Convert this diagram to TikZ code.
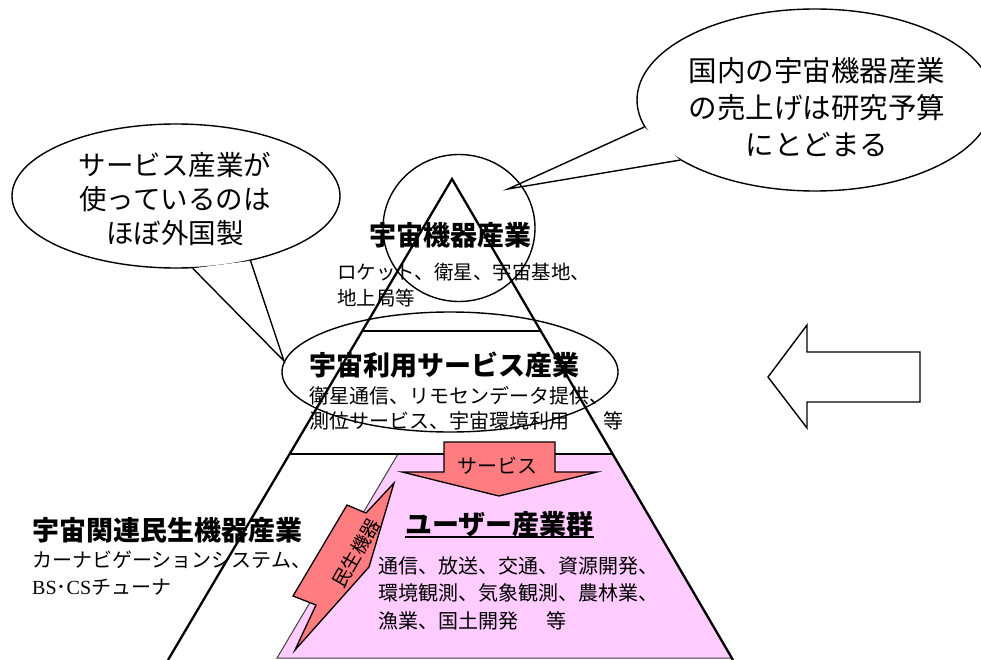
\documentclass[tikz,border=0pt]{standalone}
\usepackage{fontspec}
\setmainfont{Noto Sans CJK JP}
\newfontfamily\tms{Liberation Serif}
\usetikzlibrary{shapes.geometric}
\definecolor{pinkfill}{RGB}{255,204,255}
\definecolor{redarrow}{RGB}{255,124,128}
\tikzset{
  outl/.style={draw=black, line width=1.4pt, line join=miter},
  bubble/.style={ellipse, outl, fill=white, inner sep=0pt},
  ring/.style={ellipse, outl, inner sep=0pt},
  bubtext/.style={align=center, inner sep=0pt},
  heading/.style={font=\fontsize{27}{30}\selectfont\bfseries, inner sep=0pt, anchor=base west},
  body/.style={inner sep=0pt, align=left, anchor=north west},
  redshape/.style={draw=black, line width=1.3pt, fill=redarrow, line join=miter},
}
\begin{document}
\begin{tikzpicture}[x=1pt,y=-1pt]
\useasboundingbox (0,0) rectangle (981,660);

% callout bubbles
\node[bubble, minimum width=328pt, minimum height=144pt] (bubL) at (176,196) {};
\coordinate (tipL) at (284,361);
\fill[white] (bubL.-77.5) -- (tipL) -- (bubL.-41) -- cycle;
\draw[outl] (bubL.-77.5) -- (tipL) -- (bubL.-41);

\node[bubble, minimum width=356pt, minimum height=182pt] (bubR) at (815,100) {};
\coordinate (tipR) at (508,189);
\fill[white] (bubR.189.4) -- (tipR) -- (bubR.204) -- cycle;
\draw[outl] (bubR.189.4) -- (tipR) -- (bubR.204);

% user industries area
\draw[draw=black!75, line width=1pt, fill=pinkfill] (398,454) -- (612.7,454) -- (731.8,658) -- (277,658) -- cycle;

% pyramid
\draw[line width=2.3pt, line join=miter] (168,660) -- (452,179) -- (733,660);
\draw[line width=1.4pt] (362.3,331) -- (540.8,331);
\draw[line width=1.4pt] (289.6,454) -- (612.7,454);

% circle and ellipse
\node[ring, minimum width=152pt, minimum height=147pt] (circ) at (459,228) {};
\node[ring, minimum width=336pt, minimum height=120pt] (midE) at (450,372) {};

% red arrows
\draw[redshape] (444,442) -- (555,442) -- (555,472) -- (597,472) -- (499,496) -- (402,472) -- (444,472) -- cycle;
\draw[redshape] (295,650) -- (316,605) -- (293,596) -- (347,505) -- (366,513) -- (394,483) -- (369,567) -- cycle;

% right outline arrow
\draw[outl] (768,377) -- (807,325) -- (807,352) -- (920,352) -- (920,402) -- (807,402) -- (807,428) -- cycle;

% texts
\node[bubtext, font=\fontsize{27.5}{34}\selectfont] (tL) at (175,199) {サービス産業が\\使っているのは\\ほぼ外国製};
\node[bubtext, font=\fontsize{28.5}{37}\selectfont] (tR) at (817,107) {国内の宇宙機器産業\\の売上げは研究予算\\にとどまる};

\node[heading] (h1) at (369,245) {宇宙機器産業};
\node[body, font=\fontsize{19.5}{26}\selectfont] (b1) at (337,263) {ロケット、衛星、宇宙基地、\\地上局等};

\node[heading] (h2) at (309,375) {宇宙利用サービス産業};
\node[body, font=\fontsize{20}{25}\selectfont] (b2) at (309,386) {衛星通信、リモセンデータ提供、\\測位サービス、宇宙環境利用\hspace{1.7em}等};

\node[inner sep=0pt, font=\fontsize{20}{24}\selectfont] (svc) at (497,466) {サービス};

\node[heading] (h3) at (405,534) {ユーザー産業群};
\draw[line width=1.8pt] ([yshift=-3pt]h3.base west) -- ([yshift=-3pt]h3.base east);
\node[body, font=\fontsize{20}{27.5}\selectfont] (b3) at (378,556) {通信、放送、交通、資源開発、\\環境観測、気象観測、農林業、\\漁業、国土開発\hspace{1.4em}等};

\node[heading] (h4) at (32,540) {宇宙関連民生機器産業};
\node[body, font=\fontsize{20}{27}\selectfont] (b4) at (32,551) {カーナビゲーションシステム、\\{\tms BS}･{\tms CS}チューナ};

\node[inner sep=0pt, rotate=60, font=\fontsize{19}{24}\selectfont] (mn) at (356,553) {民生機器};
\end{tikzpicture}
\end{document}
